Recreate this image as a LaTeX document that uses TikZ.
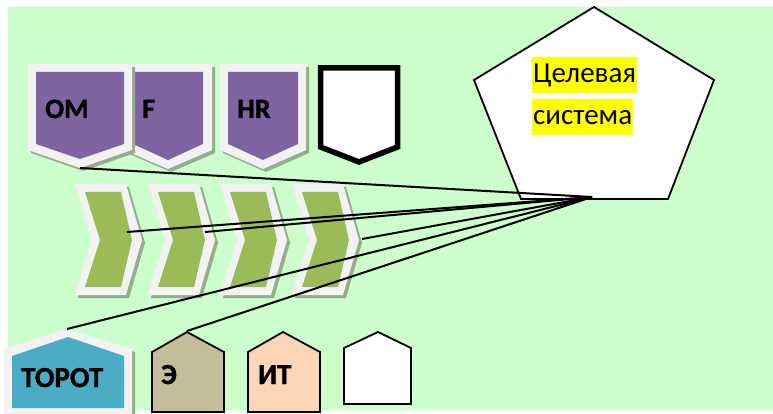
\documentclass[tikz,border=0pt]{standalone}
\usepackage{fontspec}
\setmainfont{Carlito}[BoldFeatures={FakeBold=1.2}]
\definecolor{bggreen}{RGB}{204,255,204}
\definecolor{purp}{RGB}{128,100,162}
\definecolor{chev}{RGB}{155,187,89}
\definecolor{shadowc}{RGB}{150,172,140}
\definecolor{edgew}{RGB}{242,242,242}
\definecolor{blueh}{RGB}{75,172,198}
\definecolor{tanh}{RGB}{196,189,151}
\definecolor{peach}{RGB}{251,213,181}
\definecolor{hilite}{RGB}{255,255,0}
\tikzset{
  shadowfill/.style={fill=shadowc},
  whiteedge/.style={fill=edgew},
  purpfill/.style={fill=purp},
  chevfill/.style={fill=chev},
  house/.style={draw=black,line width=1.8pt,line join=miter},
  toplabel/.style={font=\fontsize{28}{32}\selectfont\bfseries,inner sep=0pt,anchor=base west},
  botlabel/.style={font=\fontsize{29}{33}\selectfont\bfseries,inner sep=0pt,anchor=base west},
  goaltext/.style={font=\fontsize{29}{34}\selectfont,fill=hilite,inner xsep=1pt,inner ysep=0pt,minimum height=36pt,anchor=west},
  link/.style={draw=black,line width=2pt}
}
\begin{document}
\begin{tikzpicture}[x=1pt,y=-1pt]
\useasboundingbox (0,0) rectangle (773,414);
\fill[bggreen] (8,7) rectangle (773,410);

% ---- top pennants ----
% F (behind OM)
\fill[shadowfill] (127,67) -- (215,67) -- (215,153) -- (171,172) -- (127,153) -- cycle;
\fill[whiteedge] (124,64) -- (212,64) -- (212,150) -- (168,169) -- (124,150) -- cycle;
\fill[purpfill] (133,72) -- (203,72) -- (203,144) -- (168,160) -- (133,144) -- cycle;
% OM
\fill[shadowfill] (31,67) -- (135,67) -- (135,153) -- (83,171) -- (31,153) -- cycle;
\fill[whiteedge] (28,64) -- (132,64) -- (132,150) -- (80,168) -- (28,150) -- cycle;
\fill[purpfill] (36,72) -- (124,72) -- (124,144) -- (80,159) -- (36,144) -- cycle;
% HR
\fill[shadowfill] (223,67) -- (309,67) -- (309,153) -- (266,172) -- (223,153) -- cycle;
\fill[whiteedge] (220,64) -- (306,64) -- (306,150) -- (263,169) -- (220,150) -- cycle;
\fill[purpfill] (228,72) -- (298,72) -- (298,144) -- (263,160) -- (228,144) -- cycle;
% blank pennant
\draw[line width=5.5pt,fill=white,line join=miter] (320.5,68) -- (397.5,68) -- (397.5,147) -- (359,162) -- (320.5,147) -- cycle;

\node[toplabel] (om) at (45,118) {OM};
\node[toplabel] (f) at (142,118) {F};
\node[toplabel] (hr) at (237,118) {HR};
\coordinate (omtip) at (80,168);

% ---- chevrons ----
\foreach \d/\n in {0/1,73/2,145/3,217/4}{
  \fill[shadowfill,shift={(\d+3,3)}] (75,184) -- (126,184) -- (142,240) -- (126,295) -- (75,295) -- (92,240) -- cycle;
  \fill[whiteedge,shift={(\d,0)}] (75,184) -- (126,184) -- (142,240) -- (126,295) -- (75,295) -- (92,240) -- cycle;
  \fill[chevfill,shift={(\d,0)}] (85,192) -- (121,192) -- (132,240) -- (121,287) -- (85,287) -- (100,240) -- cycle;
}
\coordinate (c1) at (127,232);
\coordinate (c2) at (205,232);
\coordinate (c4) at (362,239);

% ---- bottom houses ----
\fill[shadowfill] (7,352) -- (70,332) -- (135,352) -- (135,417) -- (7,417) -- cycle;
\fill[whiteedge] (4,349) -- (67,329) -- (132,349) -- (132,414) -- (4,414) -- cycle;
\fill[blueh] (12,356) -- (68,337) -- (124,356) -- (124,408) -- (12,408) -- cycle;
\draw[house,fill=tanh] (152,352) -- (187,332) -- (224,352) -- (224,412) -- (152,412) -- cycle;
\draw[house,fill=peach] (248,352) -- (283,332) -- (320,352) -- (320,412) -- (248,412) -- cycle;
\draw[house,fill=white] (344,348) -- (378,332) -- (411,348) -- (411,404) -- (344,404) -- cycle;
\node[botlabel] (topot) at (21,387) {ТОРОТ};
\node[botlabel] (e) at (161,384) {Э};
\node[botlabel] (it) at (258,384) {ИТ};
\coordinate (hT) at (67,329);
\coordinate (hE) at (187,331);

% ---- target pentagon ----
\draw[line width=1.8pt,fill=white,line join=miter] (594,7) -- (714,80) -- (668,199) -- (521,199) -- (474,80) -- cycle;
\node[goaltext] (g1) at (532,75.5) {Целевая};
\node[goaltext] (g2) at (532,117.5) {система};
\coordinate (hub) at (592,197);

% ---- links ----
\foreach \s in {omtip,c1,c2,c4,hT,hE}{
  \draw[link] (\s) -- (hub);
}
\end{tikzpicture}
\end{document}
